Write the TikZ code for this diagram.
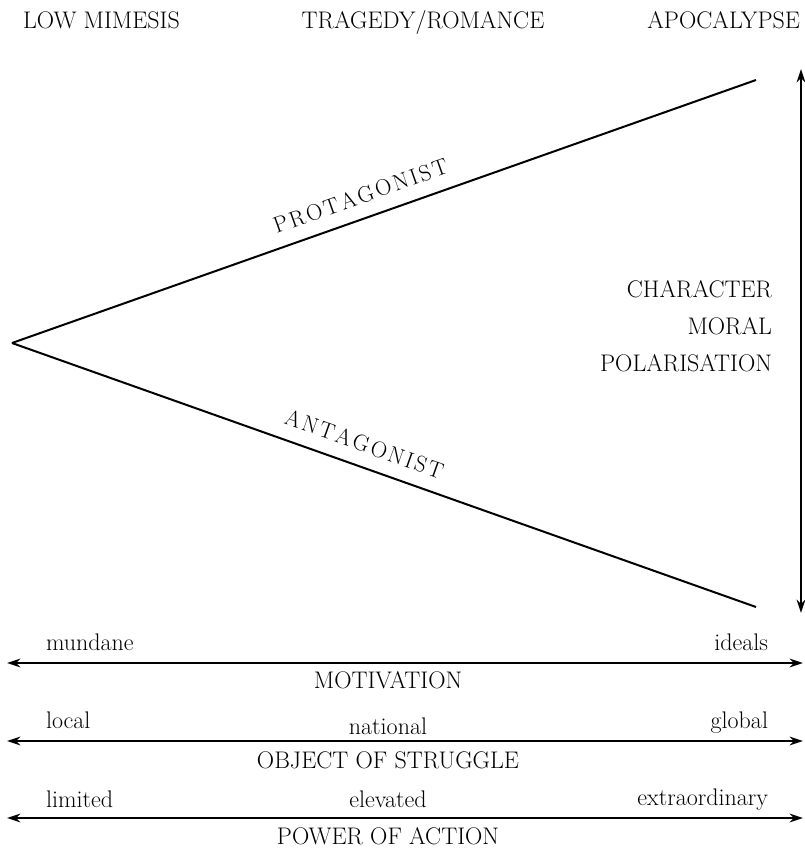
\documentclass[tikz,border=0pt]{standalone}
\usetikzlibrary{arrows.meta}

% spread the letters of a word
\newcommand\gapped[1]{\gappedaux#1\relax}
\def\gappedaux#1{\ifx#1\relax\else#1\kern1.8pt\expandafter\gappedaux\fi}

\tikzset{
  txt/.style={inner sep=0pt, font=\fontsize{18}{21}\selectfont},
  side/.style={txt, sloped, above=10pt, font=\fontsize{17}{20}\selectfont},
  axis/.style={<->, line width=1.5pt}
}

\begin{document}
\begin{tikzpicture}[x=0.75pt, y=-0.75pt, >={Stealth[length=10pt,width=6.5pt]}, line width=1.5pt]
    \useasboundingbox (0,0) rectangle (805,850);

    % headings
    \node[txt, anchor=base west] (low) at (22,28) {LOW MIMESIS};
    \node[txt, anchor=base] (trag) at (423,28) {TRAGEDY/ROMANCE};
    \node[txt, anchor=base east] (apoc) at (801,28) {APOCALYPSE};

    % the wedge
    \coordinate (apex) at (12,343);
    \coordinate (hi) at (756,80);
    \coordinate (lo) at (756,607);
    \draw (apex) -- node[side, pos=0.48] {\gapped{PROTAGONIST}} (hi);
    \draw (apex) -- node[side, pos=0.465] {\gapped{ANTAGONIST}} (lo);

    % moral axis
    \coordinate (mtop) at (801,69);
    \coordinate (mbot) at (801,613);
    \draw[axis] (mtop) -- (mbot);
    \node[txt, anchor=base east] (char) at (773,297) {CHARACTER};
    \node[txt, anchor=base east] (moral) at (773,334) {MORAL};
    \node[txt, anchor=base east] (polar) at (773,371) {POLARISATION};

    % motivation
    \coordinate (m1) at (7,663);
    \coordinate (m2) at (803,663);
    \draw[axis] (m1) -- (m2);
    \node[txt, anchor=base west] (mund) at (45,650) {mundane};
    \node[txt, anchor=base east] (ideal) at (769,650) {ideals};
    \node[txt, anchor=base] (motiv) at (388,688) {MOTIVATION};

    % object of struggle
    \coordinate (s1) at (7,741);
    \coordinate (s2) at (803,741);
    \draw[axis] (s1) -- (s2);
    \node[txt, anchor=base west] (local) at (45,728) {local};
    \node[txt, anchor=base] (natl) at (388,734) {national};
    \node[txt, anchor=base east] (glob) at (769,728) {global};
    \node[txt, anchor=base] (obj) at (388,768) {OBJECT OF STRUGGLE};

    % power of action
    \coordinate (p1) at (7,818);
    \coordinate (p2) at (803,818);
    \draw[axis] (p1) -- (p2);
    \node[txt, anchor=base west] (lim) at (45,807) {limited};
    \node[txt, anchor=base] (elev) at (388,807) {elevated};
    \node[txt, anchor=base east] (extra) at (769,805) {extraordinary};
    \node[txt, anchor=base] (power) at (388,844) {POWER OF ACTION};
\end{tikzpicture}
\end{document}
